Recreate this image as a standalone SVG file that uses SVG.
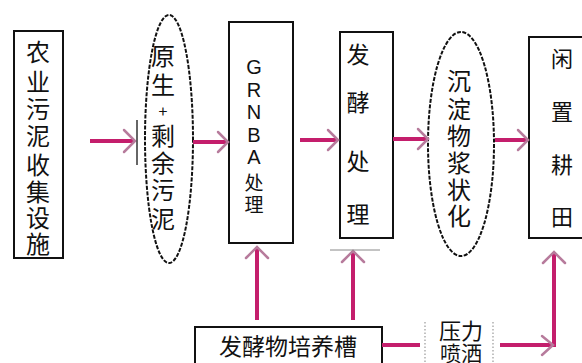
<svg xmlns="http://www.w3.org/2000/svg" width="582" height="363" viewBox="0 0 582 363">
<style>
.box{fill:#fff;stroke:#111;stroke-width:2}
.ell{fill:#fff;stroke:#111;stroke-width:2;stroke-dasharray:4 1.5}
.t{font-family:"Noto Sans CJK SC","Noto Sans",sans-serif;fill:#111;text-anchor:middle;dominant-baseline:central}
.l{font-family:"Liberation Sans",Arial,sans-serif;fill:#111;text-anchor:middle;dominant-baseline:central;font-size:20px}
.ln{fill:none;stroke:#c41e6c;stroke-width:4}
.hd{fill:none;stroke:#b77b9c;stroke-width:2.5;stroke-linecap:round}
</style>
<rect width="582" height="363" fill="#fff"/>
<g id="n1">
<rect class="box" x="14" y="31" width="49" height="227"/>
<g class="t" font-size="24">
<text x="38" y="50">农</text><text x="38" y="80">业</text><text x="38" y="107">污</text><text x="38" y="134">泥</text><text x="38" y="163">收</text><text x="38" y="190">集</text><text x="38" y="216">设</text><text x="38" y="242">施</text>
</g>
</g>
<g id="n2">
<ellipse class="ell" cx="169" cy="139" rx="24" ry="124"/>
<g class="t" font-size="24">
<text x="163" y="54">原</text><text x="163" y="83">生</text><text x="163" y="110" font-size="16">+</text><text x="163" y="134">剩</text><text x="163" y="161">余</text><text x="163" y="188">污</text><text x="163" y="217">泥</text>
</g>
</g>
<g id="n3">
<rect class="box" x="229" y="22" width="64" height="221"/>
<text class="l" x="254" y="67">G</text><text class="l" x="254" y="90">R</text><text class="l" x="254" y="112">N</text><text class="l" x="254" y="135">B</text><text class="l" x="254" y="157">A</text>
<text class="t" x="254" y="181" font-size="19">处</text><text class="t" x="254" y="203" font-size="19">理</text>
</g>
<g id="n4">
<rect class="box" x="340" y="32" width="53" height="206"/>
<g class="t" font-size="23">
<text x="358" y="53">发</text><text x="358" y="101">酵</text><text x="358" y="160">处</text><text x="358" y="213">理</text>
</g>
</g>
<g id="n5">
<ellipse class="ell" cx="461" cy="144" rx="33" ry="112"/>
<g class="t" font-size="24">
<text x="459" y="79">沉</text><text x="459" y="107">淀</text><text x="459" y="134">物</text><text x="459" y="161">浆</text><text x="459" y="188">状</text><text x="459" y="214">化</text>
</g>
</g>
<g id="n6">
<rect class="box" x="529" y="37" width="60" height="201"/>
<g class="t" font-size="22">
<text x="562" y="57">闲</text><text x="562" y="110">置</text><text x="562" y="163">耕</text><text x="562" y="215">田</text>
</g>
</g>
<g id="n7">
<rect class="box" x="195" y="327" width="187" height="38"/>
<text class="t" x="288" y="345" font-size="23">发酵物培养槽</text>
</g>
<g id="n8">
<line x1="425" y1="322" x2="425" y2="363" stroke="#999" stroke-width="1.2" stroke-dasharray="1.5 2"/>
<line x1="493" y1="322" x2="493" y2="363" stroke="#999" stroke-width="1.2" stroke-dasharray="1.5 2"/>
<text class="t" x="461" y="329" font-size="22">压力</text>
<text class="t" x="461" y="352" font-size="21">喷洒</text>
</g>
<g id="connectors">
<line class="ln" x1="90" y1="141" x2="134" y2="141"/>
<polyline class="hd" points="124,130 135,141 124,152"/>
<line x1="137" y1="120" x2="137" y2="165" stroke="#333" stroke-width="1.5"/>
<line class="ln" x1="193" y1="142" x2="228" y2="142"/>
<polyline class="hd" points="218,132 228,142 218,152"/>
<line class="ln" x1="300" y1="140" x2="338" y2="140"/>
<polyline class="hd" points="328,130 338,140 328,150"/>
<line class="ln" x1="393" y1="139" x2="428" y2="139"/>
<polyline class="hd" points="418,129 428,139 418,149"/>
<line class="ln" x1="495" y1="140" x2="528" y2="140"/>
<polyline class="hd" points="518,130 528,140 518,150"/>
<line class="ln" x1="257" y1="320" x2="257" y2="247"/>
<polyline class="hd" points="246,258 257,247 268,258"/>
<line class="ln" x1="353" y1="320" x2="353" y2="251"/>
<polyline class="hd" points="342,262 353,251 364,262"/>
<line x1="330" y1="250" x2="380" y2="250" stroke="#888" stroke-width="1"/>
<line class="ln" x1="382" y1="345" x2="420" y2="345"/>
<polyline class="ln" points="500,345 554,345 554,252"/>
<polyline class="hd" points="543,263 554,252 565,263"/>
<polyline class="hd" points="542,336 553,345 542,355"/>
</g>
</svg>
